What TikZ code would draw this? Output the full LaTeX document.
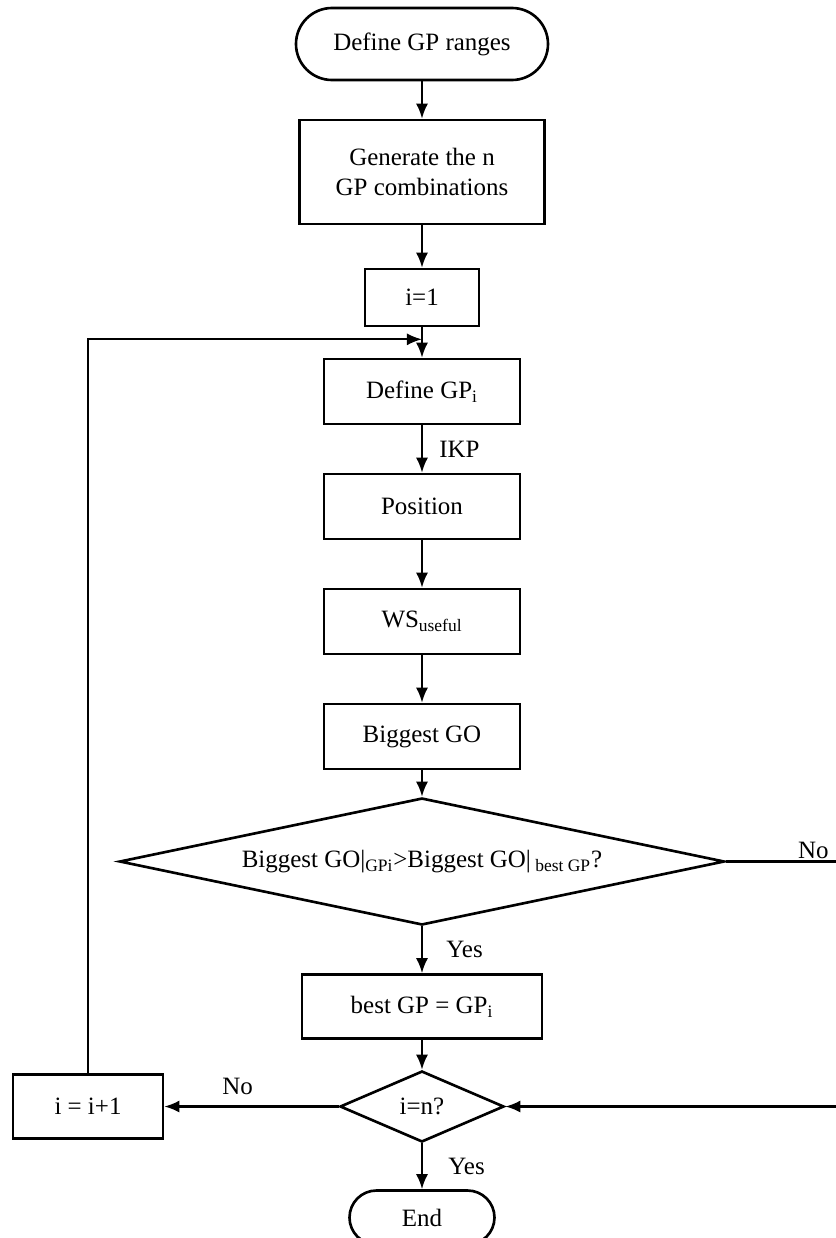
\documentclass[tikz,border=0pt]{standalone}
\usepackage{fontspec}
\setmainfont{Liberation Serif}
\usetikzlibrary{shapes.geometric, positioning, arrows.meta}

\begin{document}
\begin{tikzpicture}[every node/.style={font=\fontsize{14.2}{17}\selectfont},
    node distance=2.3cm,
    >={Latex[length=.3cm, width=.24cm]},
    terminal/.style={rectangle, draw, line width=1.5pt, inner sep=0pt},
    process/.style={rectangle, draw, line width=1.5pt, align=center, minimum width=3.92cm, minimum height=1.3cm},
    decision/.style={diamond, draw, line width=1.5pt, inner sep=0pt}]
    \useasboundingbox (-8.44,.88) rectangle (8.28,-23.88);

    \node[terminal, minimum width=5.04cm, minimum height=1.44cm, rounded corners=.72cm] (start) {Define GP ranges};
    \node[process, below of=start, yshift=-.26cm, minimum width=4.9cm, minimum height=2.08cm] (gen) {Generate the n\\GP combinations};
    \node[process, below of=gen, yshift=-.21cm, minimum width=2.28cm, minimum height=1.14cm] (init) {i=1};
    \node[process, below of=init, yshift=.42cm] (defgp) {Define GP\textsubscript{i}};
    \node[process, below of=defgp] (pos) {Position};
    \node[process, below of=pos] (ws) {WS\textsubscript{useful}};
    \node[process, below of=ws] (big) {Biggest GO};
    \node[decision, below of=big, yshift=-.2cm, aspect=4.76, minimum width=12.1cm, minimum height=2.54cm] (cmp) {Biggest GO|\textsubscript{GPi}>Biggest GO|\textsubscript{ best GP}?};
    \node[process, below of=cmp, yshift=-.6cm, minimum width=4.8cm, minimum height=1.28cm] (best) {best GP = GP\textsubscript{i}};
    \node[decision, below of=best, yshift=.3cm, aspect=2.31, minimum width=3.28cm, minimum height=1.42cm] (last) {i=n?};
    \node[process, left of=last, xshift=-4.38cm, minimum width=3cm, minimum height=1.28cm] (inc) {i = i+1};
    \node[terminal, below of=last, yshift=.08cm, minimum width=2.9cm, minimum height=1.08cm, rounded corners=.54cm] (end) {End};

    \coordinate (join) at ([yshift=-.24cm]init.south);
    \coordinate (turn) at ([xshift=2.4cm]cmp.east);

    \path[->, line width=1.2pt]
    (start) edge (gen)
    (gen) edge (init)
    (init) edge (defgp)
    (defgp) edge node[right, xshift=.21cm] {IKP} (pos)
    (pos) edge (ws)
    (ws) edge (big)
    (big) edge (cmp)
    (cmp) edge node[right, xshift=.35cm] {Yes} (best)
    (best) edge (last)
    (last) edge node[above, pos=.58, yshift=.1cm] {No} (inc)
    (last) edge node[right, xshift=.39cm] {Yes} (end);
    \draw[->, line width=1.2pt] (inc) |- (join);
    \draw[->, line width=1.2pt] (cmp.east) -- node[above, pos=.73, yshift=-.08cm] {No} (turn) |- (last.east);
\end{tikzpicture}
\end{document}
